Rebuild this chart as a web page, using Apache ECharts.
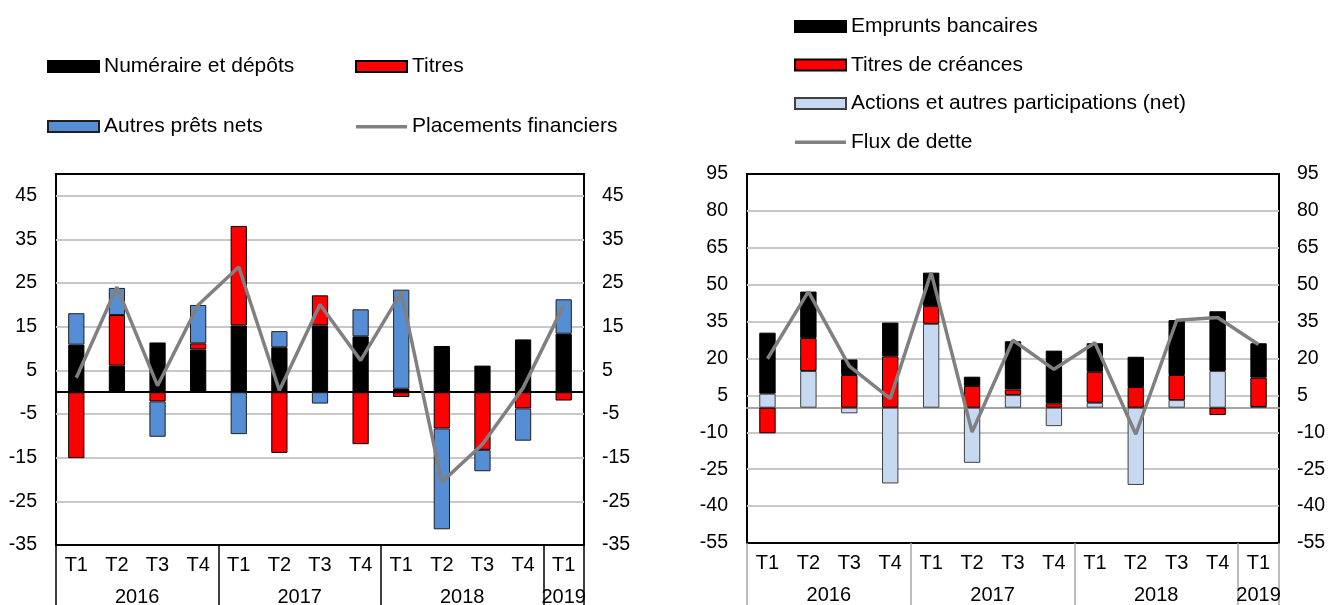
<!DOCTYPE html>
<html>
<head>
<meta charset="utf-8">
<script src="https://cdn.jsdelivr.net/npm/echarts@6/dist/echarts.min.js"></script>
<style>
  html, body { margin: 0; padding: 0; background: #fff; }
  #chart { width: 1330px; height: 605px; }
</style>
</head>
<body>
<div id="chart"></div>
<script>
// trimestres, communs aux deux graphiques
const quarters = ['T1', 'T2', 'T3', 'T4', 'T1', 'T2', 'T3', 'T4', 'T1', 'T2', 'T3', 'T4', 'T1']
const years = ['2016', '2017', '2018', '2019']
const yearSpans = [4, 4, 4, 1]

// graphique de gauche
const numeraire = [10.9, 6.1, 11.4, 9.8, 15.3, 10.3, 15.3, 12.8, 0.8, 10.6, 6.1, 12.1, 13.4]
const titres = [-15.1, 11.6, -2.1, 1.4, 22.8, -13.9, 6.9, -11.9, -1.1, -8.3, -13.2, -3.7, -1.9]
const autresPrets = [7.2, 6.2, -8.1, 8.8, -9.6, 3.7, -2.6, 6.2, 22.7, -23.1, -4.9, -7.4, 7.9]
const placements = [3.3, 24.1, 1.5, 20.0, 28.7, 0.4, 20.1, 7.3, 22.9, -20.6, -11.9, 1.0, 19.9]

// graphique de droite
const emprunts = [24.8, 18.9, 6.3, 13.7, 13.6, 3.8, 19.6, 21.4, 11.6, 12.3, 22.3, 24.3, 14.0]
const titresCreances = [-10.4, 13.4, 13.3, 20.9, 7.2, 8.8, 2.3, 1.8, 12.6, 8.4, 10.2, -3.0, 11.9]
const actions = [5.7, 14.9, -2.3, -30.8, 34.1, -22.4, 5.1, -7.5, 2.0, -31.4, 3.1, 14.9, 0.3]
const fluxDette = [19.9, 47.2, 16.9, 3.7, 54.9, -9.9, 27.4, 15.6, 26.4, -10.8, 35.5, 36.7, 25.7]

// bornes et centres des années sur l'axe des trimestres
let yearBounds = [0]
let yearCenters = []
yearSpans.forEach(s => {
    let start = yearBounds[yearBounds.length - 1]
    yearCenters.push(start + s / 2)
    yearBounds.push(start + s)
})
const yearLabel = (v) => years[yearCenters.indexOf(v)] || ''

const txtX = { color: '#000', fontSize: 20 }
const txtY = { color: '#000', fontSize: 19.5, padding: [4, 0, 0, 0] }

// icône de légende pour les courbes : trait gris
const LINE_ICON = 'path://M0,0M51,11M0,4L51,4L51,7.5L0,7.5Z'

const makeXAxes = (grid, sepColor, zeroColor) => [{
    gridIndex: grid,
    type: 'category',
    data: quarters,
    position: 'bottom',
    axisLine: { onZero: true, lineStyle: { color: zeroColor, width: 2 } },
    axisTick: { interval: 0, length: 5, lineStyle: { color: zeroColor, width: 1.5 } },
    axisLabel: { show: false }
}, {
    gridIndex: grid,
    type: 'category',
    data: quarters,
    position: 'bottom',
    axisLine: { show: false, onZero: false },
    axisTick: { interval: 0, length: 32, lineStyle: { color: sepColor, width: 1.5 } },
    axisLabel: Object.assign({ interval: 0, margin: 10 }, txtX)
}, {
    gridIndex: grid,
    type: 'value',
    min: 0,
    max: 13,
    position: 'bottom',
    axisLine: { show: false, onZero: false },
    splitLine: { show: false },
    axisTick: { customValues: yearBounds, length: 62, lineStyle: { color: sepColor, width: 1.5 } },
    axisLabel: Object.assign({ customValues: yearCenters, formatter: yearLabel, margin: 42 }, txtX)
}]

const makeYAxes = (grid, min, max, step) => {
    // pas d'étiquette sur le bord haut s'il ne tombe pas sur le pas
    let fmt = v => ((v - min) % step === 0 ? v : '')
    return [{
        gridIndex: grid,
        type: 'value',
        min: min,
        max: max,
        interval: step,
        position: 'left',
        axisLine: { show: false },
        axisTick: { show: false },
        splitLine: { showMinLine: false, showMaxLine: false, lineStyle: { color: '#C8C8C8', width: 2 } },
        axisLabel: Object.assign({ margin: 19, formatter: fmt }, txtY)
    }, {
        gridIndex: grid,
        type: 'value',
        min: min,
        max: max,
        interval: step,
        position: 'right',
        axisLine: { show: false },
        axisTick: { show: false },
        splitLine: { show: false },
        axisLabel: Object.assign({ margin: 18, formatter: fmt }, txtY)
    }]
}

const bar = (name, data, color, border, stack, x, y) => ({
    name: name,
    type: 'bar',
    stack: stack,
    xAxisIndex: x,
    yAxisIndex: y,
    barWidth: '40%',
    data: data,
    itemStyle: { color: color, borderColor: border, borderWidth: 1 }
})

const line = (name, data, x, y) => ({
    name: name,
    type: 'line',
    xAxisIndex: x,
    yAxisIndex: y,
    data: data,
    symbol: 'none',
    z: 5,
    lineStyle: { color: '#808080', width: 3.5 },
    itemStyle: { color: '#808080' }
})

const legendBase = {
    orient: 'vertical',
    padding: 0,
    icon: 'rect',
    itemWidth: 51,
    itemHeight: 11,
    selectedMode: false,
    textStyle: { color: '#000', fontSize: 21 }
}

let option = {
    animation: false,
    textStyle: { fontFamily: 'Liberation Sans, Arial, sans-serif' },
    legend: [
        Object.assign({ data: ['Numéraire et dépôts', 'Autres prêts nets'], left: 47, top: 56, itemGap: 39 }, legendBase),
        Object.assign({ data: ['Titres', { name: 'Placements financiers', icon: LINE_ICON }], left: 355, top: 56, itemGap: 39 }, legendBase),
        Object.assign({
            data: ['Emprunts bancaires', 'Titres de créances', 'Actions et autres participations (net)', { name: 'Flux de dette', icon: LINE_ICON }],
            left: 794, top: 16, itemGap: 17.5
        }, legendBase)
    ],
    grid: [
        { left: 56, right: 746, top: 174, bottom: 60, outerBoundsMode: 'none', show: true, borderColor: '#000', borderWidth: 2 },
        { left: 747, right: 51, top: 174, bottom: 62, outerBoundsMode: 'none', show: true, borderColor: '#000', borderWidth: 2 }
    ],
    xAxis: makeXAxes(0, '#000', '#000').concat(makeXAxes(1, '#A6A6A6', '#A6A6A6')),
    yAxis: makeYAxes(0, -35, 50, 10).concat(makeYAxes(1, -55, 95, 15)),
    series: [
        bar('Numéraire et dépôts', numeraire, '#000000', '#000', 'L', 0, 0),
        bar('Titres', titres, '#FF0000', '#000', 'L', 0, 0),
        bar('Autres prêts nets', autresPrets, '#558ED5', '#1F1F1F', 'L', 0, 0),
        line('Placements financiers', placements, 0, 0),
        bar('Actions et autres participations (net)', actions, '#C6D9F1', '#404040', 'R', 3, 2),
        bar('Titres de créances', titresCreances, '#FF0000', '#000', 'R', 3, 2),
        bar('Emprunts bancaires', emprunts, '#000000', '#000', 'R', 3, 2),
        line('Flux de dette', fluxDette, 3, 2)
    ]
}

let chart = echarts.init(document.getElementById('chart'), null, { renderer: 'canvas' })
chart.setOption(option)
</script>
</body>
</html>
